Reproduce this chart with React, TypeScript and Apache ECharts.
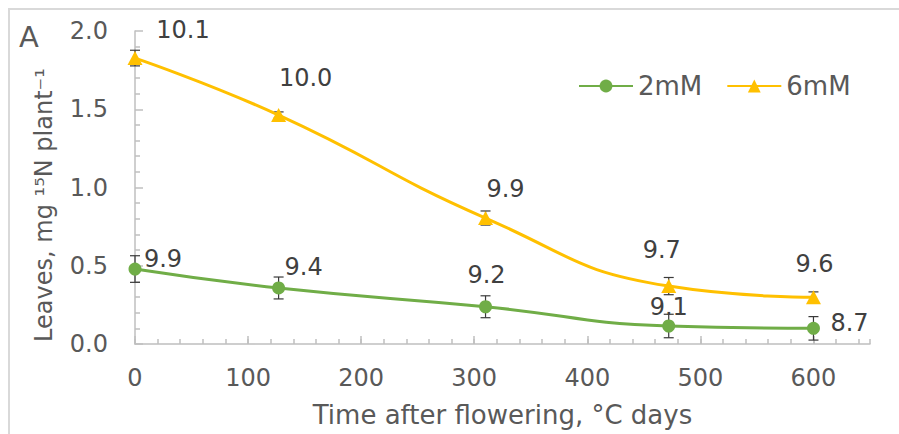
import React, { useEffect, useRef } from 'react';
import * as echarts from 'echarts';

// Sampling times (°C days after flowering)
const days = [0, 127, 310, 472, 600];

// Leaf 15N content, mg plant-1
const leaves2mM = [0.479, 0.358, 0.238, 0.115, 0.1];
const leaves6mM = [1.827, 1.463, 0.805, 0.37, 0.298];

// Standard errors
const err2mM = [0.085, 0.07, 0.07, 0.075, 0.075];
const err6mM = [0.05, 0.02, 0.045, 0.055, 0.035];

// Annotation values printed beside each point
const notes2mM = ['9.9', '9.4', '9.2', '9.1', '8.7'];
const notes6mM = ['10.1', '10.0', '9.9', '9.7', '9.6'];

// Annotation placement relative to each marker (px)
const noteOffset2mM = [[28, -10], [25, -21], [1, -32], [0, -19], [36, -5]];
const noteOffset6mM = [[48, -28], [27, -37], [20, -29], [-7, -36], [1, -33]];

const FONT = 'DejaVu Sans';
const GREEN = '#70AD47';
const GOLD = '#FFC000';
const AXIS = '#BFBFBF';
const TEXT = '#595959';
const NOTE = '#404040';

function lineData(ys: number[], notes: string[], offsets: number[][]) {
  return ys.map((y, i) => ({
    value: [days[i], y],
    label: { formatter: notes[i], offset: offsets[i] },
  }));
}

function errData(ys: number[], errs: number[]) {
  return ys.map((y, i) => [days[i], y - errs[i], y + errs[i]]);
}

function renderErr(params: any, api: any) {
  const x = api.value(0);
  const lo = api.coord([x, api.value(1)]);
  const hi = api.coord([x, api.value(2)]);
  const cap = 5;
  const style = { stroke: '#3a3a3a', lineWidth: 1.2 };
  return {
    type: 'group',
    children: [
      { type: 'line', shape: { x1: lo[0], y1: lo[1], x2: hi[0], y2: hi[1] }, style },
      { type: 'line', shape: { x1: lo[0] - cap, y1: lo[1], x2: lo[0] + cap, y2: lo[1] }, style },
      { type: 'line', shape: { x1: hi[0] - cap, y1: hi[1], x2: hi[0] + cap, y2: hi[1] }, style },
    ],
  };
}

export default function App() {
  const ref = useRef<HTMLDivElement>(null);

  useEffect(() => {
    document.body.style.margin = '0';
    if (!ref.current) return;
    const chart = echarts.init(ref.current, undefined, { renderer: 'svg' });

    const labelStyle = {
      show: true,
      position: 'inside',
      fontFamily: FONT,
      fontSize: 24,
      color: NOTE,
    };

    chart.setOption({
      animation: false,
      backgroundColor: '#ffffff',
      grid: { left: 135, right: 29, top: 31, bottom: 90, containLabel: false },
      legend: {
        left: 573,
        top: 68,
        itemWidth: 54,
        itemHeight: 16,
        itemGap: 24,
        textStyle: { fontFamily: FONT, fontSize: 26, color: TEXT },
        data: ['2mM', '6mM'],
      },
      graphic: [
        {
          type: 'rect',
          silent: true,
          shape: { x: 9, y: 9, width: 1000, height: 1000 },
          style: { fill: 'none', stroke: '#D9D9D9', lineWidth: 2 },
        },
        {
          type: 'text',
          left: 19,
          top: 22,
          style: { text: 'A', fontFamily: FONT, fontSize: 29, fill: TEXT },
        },
        {
          type: 'text',
          x: 44,
          y: 205,
          rotation: Math.PI / 2,
          style: {
            text: 'Leaves, mg ¹⁵N plant⁻¹',
            fontFamily: FONT,
            fontSize: 24,
            fill: TEXT,
            align: 'center',
            verticalAlign: 'middle',
          },
        },
      ],
      xAxis: [
        {
          type: 'value',
          min: 0,
          max: 650,
          interval: 20,
          axisLine: { show: true, lineStyle: { color: AXIS, width: 1.5 } },
          axisTick: { show: true, inside: true, length: 5, lineStyle: { color: AXIS, width: 1.5 } },
          axisLabel: { show: false },
          splitLine: { show: false },
        },
        {
          type: 'value',
          position: 'bottom',
          min: 0,
          max: 650,
          interval: 100,
          axisLine: { show: false },
          axisTick: { show: true, inside: true, length: 8, lineStyle: { color: AXIS, width: 1.5 } },
          axisLabel: {
            show: true,
            showMaxLabel: false,
            margin: 22,
            fontFamily: FONT,
            fontSize: 24,
            color: TEXT,
          },
          splitLine: { show: false },
          name: 'Time after flowering, °C days',
          nameLocation: 'middle',
          nameGap: 58,
          nameTextStyle: { fontFamily: FONT, fontSize: 26, color: TEXT },
        },
      ],
      yAxis: {
        type: 'value',
        min: 0,
        max: 2,
        interval: 0.5,
        axisLine: { show: true, lineStyle: { color: AXIS, width: 1.5 } },
        axisTick: { show: true, inside: true, length: 8, lineStyle: { color: AXIS, width: 1.5 } },
        minorTick: { show: true, splitNumber: 5, length: 5, lineStyle: { color: AXIS, width: 1.5 } },
        axisLabel: {
          margin: 27,
          fontFamily: FONT,
          fontSize: 24,
          color: TEXT,
          formatter: (v: number) => v.toFixed(1),
        },
        splitLine: { show: false },
      },
      series: [
        {
          type: 'custom',
          name: 'err2',
          xAxisIndex: 0,
          yAxisIndex: 0,
          renderItem: renderErr,
          encode: { x: 0, y: [1, 2] },
          data: errData(leaves2mM, err2mM),
          z: 1,
          silent: true,
        },
        {
          type: 'custom',
          name: 'err6',
          xAxisIndex: 0,
          yAxisIndex: 0,
          renderItem: renderErr,
          encode: { x: 0, y: [1, 2] },
          data: errData(leaves6mM, err6mM),
          z: 1,
          silent: true,
        },
        {
          type: 'line',
          name: '2mM',
          xAxisIndex: 0,
          smooth: 0.5,
          symbol: 'circle',
          symbolSize: 13,
          color: GREEN,
          lineStyle: { width: 3, color: GREEN },
          itemStyle: { color: GREEN },
          label: labelStyle,
          data: lineData(leaves2mM, notes2mM, noteOffset2mM),
          z: 3,
        },
        {
          type: 'line',
          name: '6mM',
          xAxisIndex: 0,
          smooth: 0.5,
          symbol: 'triangle',
          symbolSize: [15, 14],
          color: GOLD,
          lineStyle: { width: 3, color: GOLD },
          itemStyle: { color: GOLD },
          label: labelStyle,
          data: lineData(leaves6mM, notes6mM, noteOffset6mM),
          z: 3,
        },
      ],
    });

    return () => chart.dispose();
  }, []);

  return <div ref={ref} style={{ width: 899, height: 434 }} />;
}
